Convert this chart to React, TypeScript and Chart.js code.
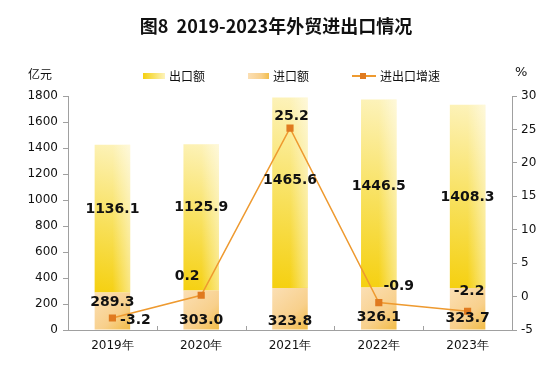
import React, { useEffect, useRef } from "react";
import { Chart, registerables } from "chart.js";

Chart.register(...registerables);

const years = ["2019年", "2020年", "2021年", "2022年", "2023年"];
const exportValues = [1136.1, 1125.9, 1465.6, 1446.5, 1408.3];
const importValues = [289.3, 303.0, 323.8, 326.1, 323.7];
const growthValues = [-3.2, 0.2, 25.2, -0.9, -2.2];
const leftTicks = [0, 200, 400, 600, 800, 1000, 1200, 1400, 1600, 1800];
const rightTicks = [-5, 0, 5, 10, 15, 20, 25, 30];

// label offsets (pixels) for placement only
const exportLabelDy = [-9.6, -9.7, -12.7, -7.6, 0.6];
const importLabelDy = [-8.5, 10.4, 12.7, 8.2, 9.3];
const growthLabelOffset: [number, number][] = [
  [23, 2.5],
  [-14, -19],
  [1.5, -11.5],
  [20, -16],
  [1.5, -19.6],
];

const FONT = "'DejaVu Sans', sans-serif";
const CJK = "'Noto Sans CJK SC', sans-serif";
const BAR_HALF = 18;

function ok(...v: number[]) {
  return v.every((n) => Number.isFinite(n));
}

function exportGradient(ctx: CanvasRenderingContext2D, x0: number, y0: number, x1: number, y1: number) {
  const g = ctx.createLinearGradient(x0, y0, x1, y1);
  g.addColorStop(0, "#f5d010");
  g.addColorStop(0.45, "#f8e05a");
  g.addColorStop(1, "#fdf3bd");
  return g;
}
function importGradient(ctx: CanvasRenderingContext2D, x0: number, y0: number, x1: number, y1: number) {
  const g = ctx.createLinearGradient(x0, y0, x1, y1);
  g.addColorStop(0, "#fbdfb4");
  g.addColorStop(0.6, "#f8d08c");
  g.addColorStop(1, "#f1bb44");
  return g;
}

function sheen(chart: any, dsIndex: number, strength: number) {
  const meta = chart.getDatasetMeta(dsIndex);
  const ctx: CanvasRenderingContext2D = chart.ctx;
  ctx.save();
  meta.data.forEach((el: any) => {
    const p = el.getProps(["x", "y", "base", "width"], true);
    if (!ok(p.x, p.y, p.base, p.width)) return;
    const l = p.x - p.width / 2;
    const g = ctx.createLinearGradient(l, 0, l + p.width, 0);
    g.addColorStop(0, "rgba(255,255,255,0)");
    g.addColorStop(0.5, "rgba(255,255,255,0)");
    g.addColorStop(1, `rgba(255,255,255,${strength})`);
    ctx.fillStyle = g;
    ctx.fillRect(l, Math.min(p.y, p.base), p.width, Math.abs(p.base - p.y));
  });
  ctx.restore();
}

const overlayPlugin = {
  id: "overlay",
  afterDatasetDraw(chart: any, args: any) {
    if (args.index === 2) sheen(chart, 2, 0.45);
  },
  afterDatasetsDraw(chart: any) {
    const ctx: CanvasRenderingContext2D = chart.ctx;
    const x = chart.scales.x;
    const y = chart.scales.y;
    const y1 = chart.scales.y1;
    ctx.save();
    ctx.strokeStyle = "#a0a0a0";
    ctx.lineWidth = 1;
    for (let i = 1; i < years.length; i++) {
      const px = Math.round((x.getPixelForValue(i - 1) + x.getPixelForValue(i)) / 2) + 0.5;
      ctx.beginPath();
      ctx.moveTo(px, y.bottom - 4);
      ctx.lineTo(px, y.bottom);
      ctx.stroke();
    }
    ctx.fillStyle = "#111";
    ctx.font = "bold 14px " + FONT;
    ctx.textAlign = "center";
    ctx.textBaseline = "middle";
    for (let i = 0; i < years.length; i++) {
      const cx = x.getPixelForValue(i);
      const imp = importValues[i];
      const exp = exportValues[i];
      const eMid = (y.getPixelForValue(imp) + y.getPixelForValue(imp + exp)) / 2;
      ctx.fillText(exp.toFixed(1), cx, eMid + exportLabelDy[i]);
      const iMid = (y.getPixelForValue(0) + y.getPixelForValue(imp)) / 2;
      ctx.fillText(imp.toFixed(1), cx, iMid + importLabelDy[i]);
      const gy = y1.getPixelForValue(growthValues[i]);
      const [ox, oy] = growthLabelOffset[i];
      ctx.fillText(growthValues[i].toFixed(1), cx + ox, gy + oy);
    }
    ctx.restore();
  },
  afterDraw(chart: any) {
    const ctx: CanvasRenderingContext2D = chart.ctx;
    ctx.save();
    ctx.fillStyle = "#111";
    ctx.font = "bold 18px " + CJK;
    ctx.textAlign = "center";
    ctx.textBaseline = "middle";
    ctx.fillText("图8  2019-2023年外贸进出口情况", 276, 26);
    ctx.font = "12px " + CJK;
    ctx.textAlign = "left";
    ctx.fillText("亿元", 28, 74);
    ctx.font = "13px " + FONT;
    ctx.fillText("%", 515, 73);
    ctx.font = "12px " + CJK;
    ctx.fillStyle = exportGradient(ctx, 143, 0, 165, 0);
    ctx.fillRect(143, 73, 22, 6);
    ctx.fillStyle = importGradient(ctx, 248, 0, 270, 0);
    ctx.fillRect(248, 73, 21, 6);
    ctx.fillStyle = "#111";
    ctx.fillText("出口额", 169, 76);
    ctx.fillText("进口额", 273, 76);
    ctx.strokeStyle = "#ee9a30";
    ctx.lineWidth = 2;
    ctx.beginPath();
    ctx.moveTo(352, 76);
    ctx.lineTo(376, 76);
    ctx.stroke();
    ctx.fillStyle = "#e07a1f";
    ctx.fillRect(360, 73, 6, 6);
    ctx.fillStyle = "#111";
    ctx.fillText("进出口增速", 380, 76);
    ctx.restore();
  },
};

function barColor(kind: "exp" | "imp") {
  return (c: any) => {
    const ch = c.chart;
    const fallback = kind === "exp" ? "#fae77a" : "#f8cf88";
    if (!ch.chartArea || c.type !== "data") return fallback;
    const xs = ch.scales.x;
    const ys = ch.scales.y;
    if (!xs || !ys) return fallback;
    const i = c.dataIndex;
    const cx = xs.getPixelForValue(i);
    const imp = importValues[i];
    const bottom = kind === "exp" ? ys.getPixelForValue(imp) : ys.getPixelForValue(0);
    const top = kind === "exp" ? ys.getPixelForValue(imp + exportValues[i]) : ys.getPixelForValue(imp);
    if (!ok(cx, bottom, top)) return fallback;
    if (kind === "exp") return exportGradient(ch.ctx, cx - BAR_HALF, bottom, cx + BAR_HALF, top);
    return importGradient(ch.ctx, cx - BAR_HALF, top, cx + BAR_HALF, bottom);
  };
}

export default function App() {
  const ref = useRef<HTMLCanvasElement | null>(null);
  useEffect(() => {
    if (!ref.current) return;
    const chart = new Chart(ref.current, {
      type: "bar",
      data: {
        labels: years,
        datasets: [
          {
            type: "line",
            label: "进出口增速",
            data: growthValues,
            yAxisID: "y1",
            borderColor: "#ee9a30",
            borderWidth: 1.5,
            pointStyle: "rect",
            pointRadius: 4,
            pointBackgroundColor: "#e07a1f",
            pointBorderColor: "#e07a1f",
            tension: 0,
            order: 0,
          } as any,
          {
            label: "进口额",
            data: importValues,
            stack: "s",
            yAxisID: "y",
            backgroundColor: barColor("imp"),
            barPercentage: 0.8,
            categoryPercentage: 0.5,
            order: 1,
          },
          {
            label: "出口额",
            data: exportValues,
            stack: "s",
            yAxisID: "y",
            backgroundColor: barColor("exp"),
            barPercentage: 0.8,
            categoryPercentage: 0.5,
            order: 1,
          },
        ],
      },
      options: {
        responsive: false,
        animation: false,
        layout: { padding: { top: 96, left: 0, right: 0, bottom: 0 } },
        plugins: {
          legend: { display: false },
          title: { display: false },
          tooltip: { enabled: false },
        },
        scales: {
          x: {
            stacked: true,
            offset: true,
            grid: { display: false, drawOnChartArea: false, drawTicks: false },
            border: { display: true, color: "#a0a0a0", width: 1 },
            ticks: { color: "#111", font: { family: FONT, size: 12 }, padding: 9 },
            afterFit: (s: any) => {
              s.height = 42;
            },
          },
          y: {
            stacked: true,
            position: "left",
            min: 0,
            max: 1800,
            afterBuildTicks: (s: any) => {
              s.ticks = leftTicks.map((v) => ({ value: v }));
            },
            grid: { drawOnChartArea: false, tickLength: 5, color: "#a0a0a0" },
            border: { display: true, color: "#a0a0a0", width: 1 },
            ticks: {
              color: "#111",
              font: { family: FONT, size: 12 },
              padding: 5,
              callback: (v: any) => String(v),
            },
            afterFit: (s: any) => {
              s.width = 68;
            },
          },
          y1: {
            position: "right",
            min: -5,
            max: 30,
            afterBuildTicks: (s: any) => {
              s.ticks = rightTicks.map((v) => ({ value: v }));
            },
            grid: { drawOnChartArea: false, tickLength: 5, color: "#a0a0a0" },
            border: { display: true, color: "#a0a0a0", width: 1 },
            ticks: {
              color: "#111",
              font: { family: FONT, size: 12 },
              padding: 4,
              callback: (v: any) => String(v),
            },
            afterFit: (s: any) => {
              s.width = 38;
            },
          },
        },
      },
      plugins: [overlayPlugin],
    });
    return () => chart.destroy();
  }, []);
  return (
    <div style={{ position: "fixed", left: 0, top: 0, width: 550, height: 372, background: "#fff" }}>
      <canvas ref={ref} width={550} height={372} style={{ width: 550, height: 372 }} />
    </div>
  );
}
